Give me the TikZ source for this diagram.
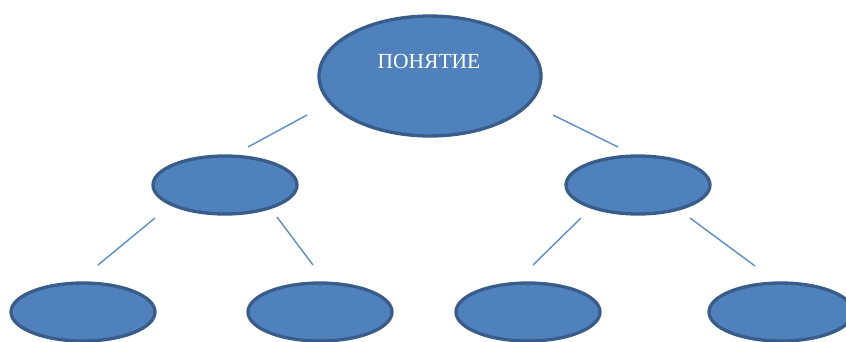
\documentclass[tikz,border=0pt]{standalone}
\usepackage{fontspec}
\setmainfont{Liberation Serif}
\usetikzlibrary{shapes.geometric}
\definecolor{fillblue}{HTML}{4F81BD}
\definecolor{edgeblue}{HTML}{385D8A}
\definecolor{lineblue}{HTML}{5B8CCB}
\begin{document}
\begin{tikzpicture}[x=1pt,y=-1pt,
  oval/.style={ellipse,draw=edgeblue,fill=fillblue,line width=3.3pt,inner sep=0pt},
  big/.style={oval,minimum width=222pt,minimum height=120pt},
  small/.style={oval,minimum width=144pt,minimum height=58pt},
  conn/.style={draw=lineblue,line width=1.4pt}]
\useasboundingbox (0,0) rectangle (846,341);
\node[big] (top) at (430,76) {};
\node[text=white,font=\fontsize{21.5}{24}\selectfont] (lbl) at (429,61) {ПОНЯТИЕ};
\node[small] (ml) at (225,185) {};
\node[small] (mr) at (638,185) {};
\node[small] (b1) at (83,312) {};
\node[small] (b2) at (320,312) {};
\node[small] (b3) at (528,312) {};
\node[small] (b4) at (781,312) {};
\coordinate (c1a) at (307,115); \coordinate (c1b) at (248,147);
\coordinate (c2a) at (553,115); \coordinate (c2b) at (618,147);
\coordinate (c3a) at (155,218); \coordinate (c3b) at (98,265);
\coordinate (c4a) at (277,217); \coordinate (c4b) at (313,265);
\coordinate (c5a) at (581,218); \coordinate (c5b) at (533,265);
\coordinate (c6a) at (690,218); \coordinate (c6b) at (755,266);
\draw[conn] (c1a) -- (c1b);
\draw[conn] (c2a) -- (c2b);
\draw[conn] (c3a) -- (c3b);
\draw[conn] (c4a) -- (c4b);
\draw[conn] (c5a) -- (c5b);
\draw[conn] (c6a) -- (c6b);
\end{tikzpicture}
\end{document}
